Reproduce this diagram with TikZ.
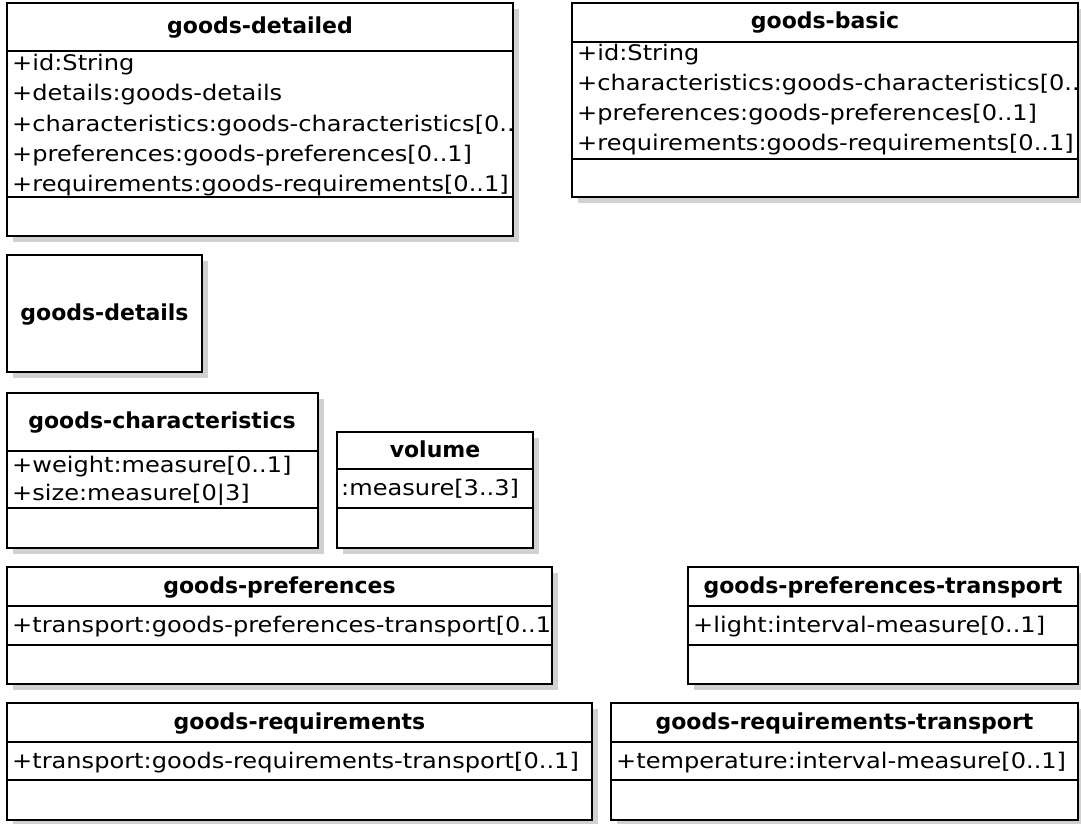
\documentclass[tikz,border=0pt]{standalone}
\usepackage{fontspec}
\setmainfont{DejaVu Sans}
\newfontfamily\attrfont[FakeStretch=1.12]{DejaVu Sans}
\tikzset{
  classbox/.style={draw=black, line width=1.8pt, fill=white},
  classline/.style={draw=black, line width=1.8pt},
  boxshadow/.style={fill=black!18},
  classname/.style={inner sep=0pt, text height=16pt, text depth=5pt,
    font=\bfseries\fontsize{22}{24}\selectfont},
  attr/.style={anchor=west, inner sep=0pt, text height=16pt, text depth=5pt,
    font=\attrfont\fontsize{21.5}{24}\selectfont}
}

\begin{document}
\begin{tikzpicture}[x=1pt,y=-1pt]
\useasboundingbox (0,0) rectangle (1081,823);
\fill[white] (0,0) rectangle (1081,823);

% goods-detailed
\fill[boxshadow] (13,9) rectangle (519,242);
\draw[classbox] (7,3) rectangle (513,236);
\node[classname] (detailed) at (260,28) {goods-detailed};
\begin{scope}
\clip (7,3) rectangle (513,236);
\node[attr] (detailed-id) at (12,65) {+id:String};
\node[attr] (detailed-det) at (12,95) {+details:goods-details};
\node[attr] (detailed-char) at (12,125.5) {+characteristics:goods-characteristics[0..1]};
\node[attr] (detailed-pref) at (12,156) {+preferences:goods-preferences[0..1]};
\node[attr] (detailed-req) at (12,186) {+requirements:goods-requirements[0..1]};
\end{scope}
\draw[classline] (7,51) -- (513,51) (7,197) -- (513,197);

% goods-basic
\fill[boxshadow] (578,9) rectangle (1084,203);
\draw[classbox] (572,3) rectangle (1078,197);
\node[classname] (basic) at (825,23) {goods-basic};
\begin{scope}
\clip (572,3) rectangle (1078,197);
\node[attr] (basic-id) at (577,55) {+id:String};
\node[attr] (basic-char) at (577,85) {+characteristics:goods-characteristics[0..1]};
\node[attr] (basic-pref) at (577,115) {+preferences:goods-preferences[0..1]};
\node[attr] (basic-req) at (577,145) {+requirements:goods-requirements[0..1]};
\end{scope}
\draw[classline] (572,42) -- (1078,42) (572,159) -- (1078,159);

% goods-details
\fill[boxshadow] (13,261) rectangle (208,378);
\draw[classbox] (7,255) rectangle (202,372);
\node[classname] (details) at (104.5,315) {goods-details};

% goods-characteristics
\fill[boxshadow] (13,399) rectangle (324,554);
\draw[classbox] (7,393) rectangle (318,548);
\node[classname] (characteristics) at (162,423) {goods-characteristics};
\node[attr] (char-weight) at (12,467) {+weight:measure[0..1]};
\node[attr] (char-size) at (12,495) {+size:measure[0|3]};
\draw[classline] (7,451) -- (318,451) (7,508) -- (318,508);

% volume
\fill[boxshadow] (343,438) rectangle (539,554);
\draw[classbox] (337,432) rectangle (533,548);
\node[classname] (volume) at (435,452) {volume};
\node[attr] (volume-measure) at (341,490) {:measure[3..3]};
\draw[classline] (337,469) -- (533,469) (337,508) -- (533,508);

% goods-preferences
\fill[boxshadow] (13,573) rectangle (558,690);
\draw[classbox] (7,567) rectangle (552,684);
\node[classname] (preferences) at (279.5,588) {goods-preferences};
\begin{scope}
\clip (7,567) rectangle (552,684);
\node[attr] (pref-transport) at (12,627) {+transport:goods-preferences-transport[0..1]};
\end{scope}
\draw[classline] (7,606) -- (552,606) (7,645) -- (552,645);

% goods-preferences-transport
\fill[boxshadow] (694,573) rectangle (1084,690);
\draw[classbox] (688,567) rectangle (1078,684);
\node[classname] (preferences-transport) at (883,588) {goods-preferences-transport};
\node[attr] (preft-light) at (693,627) {+light:interval-measure[0..1]};
\draw[classline] (688,606) -- (1078,606) (688,645) -- (1078,645);

% goods-requirements
\fill[boxshadow] (13,709) rectangle (598,826);
\draw[classbox] (7,703) rectangle (592,820);
\node[classname] (requirements) at (299.5,724) {goods-requirements};
\begin{scope}
\clip (7,703) rectangle (592,820);
\node[attr] (req-transport) at (12,763) {+transport:goods-requirements-transport[0..1]};
\end{scope}
\draw[classline] (7,742) -- (592,742) (7,780) -- (592,780);

% goods-requirements-transport
\fill[boxshadow] (617,709) rectangle (1084,826);
\draw[classbox] (611,703) rectangle (1078,820);
\node[classname] (requirements-transport) at (844.5,724) {goods-requirements-transport};
\node[attr] (reqt-temp) at (616,763) {+temperature:interval-measure[0..1]};
\draw[classline] (611,742) -- (1078,742) (611,780) -- (1078,780);
\end{tikzpicture}
\end{document}
